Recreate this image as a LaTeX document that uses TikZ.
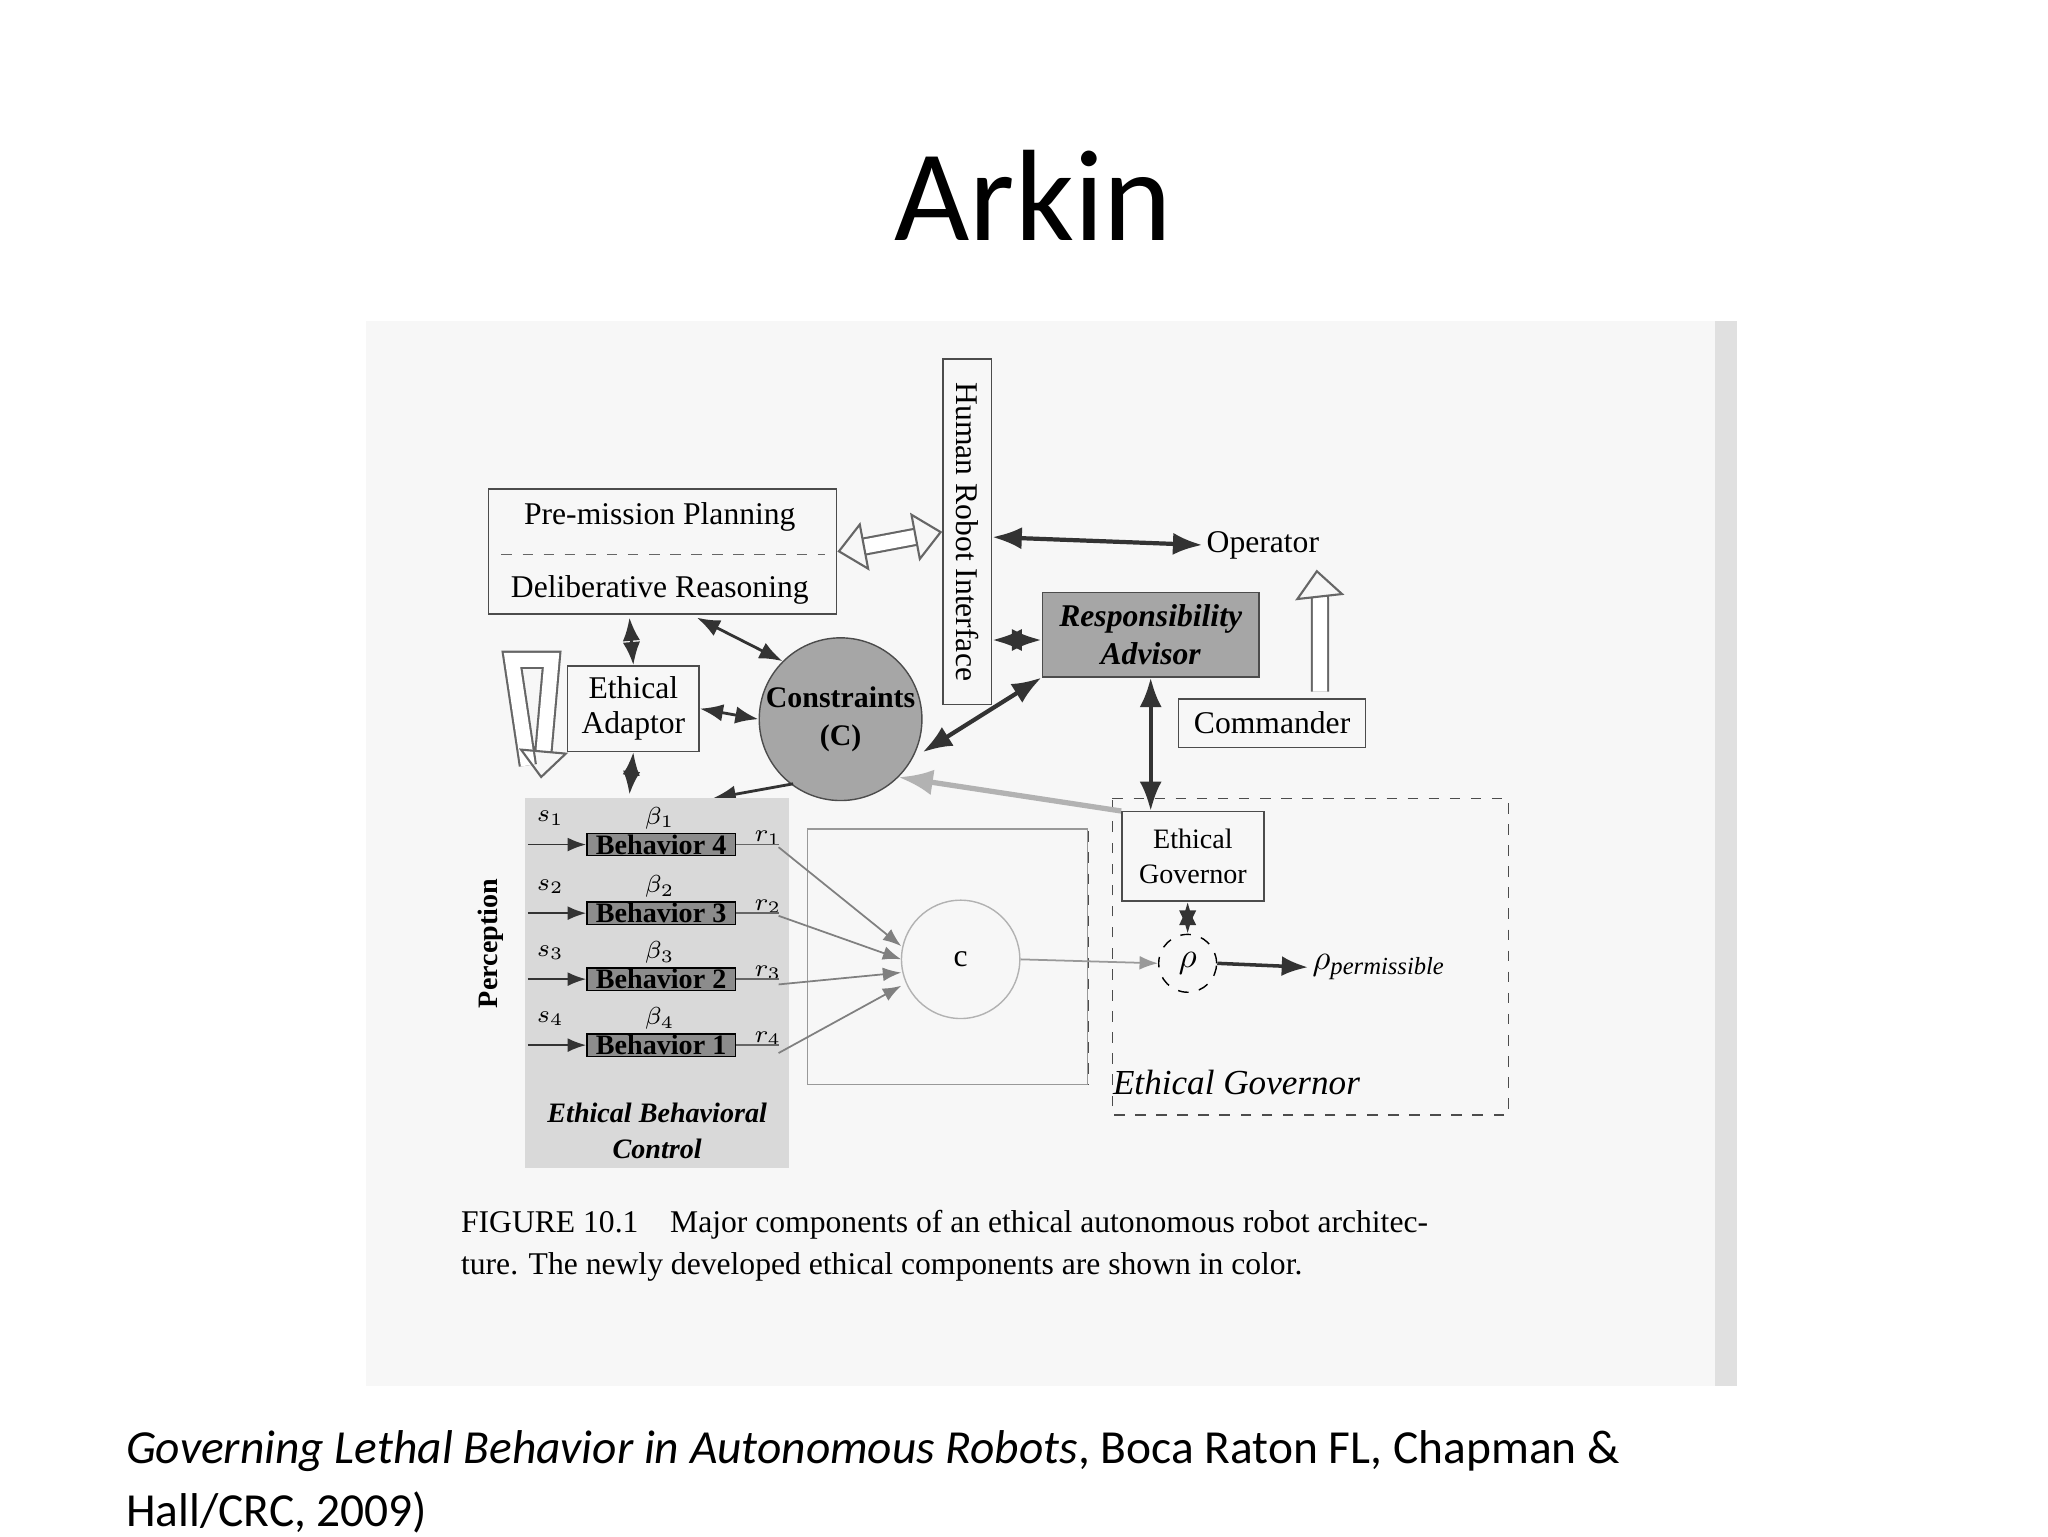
\documentclass[tikz,border=0pt]{standalone}
\usepackage{fontspec}
\setmainfont{Liberation Serif}
\newfontfamily\calib{Carlito}
\usetikzlibrary{arrows.meta,calc}
\begin{document}
\begin{tikzpicture}[x=0.013196cm,y=-0.013196cm,
  lbl/.style={font=\fontsize{9}{10}\selectfont,inner sep=1pt},
  box/.style={draw=black!70,thin},
  dbl/.style={Latex-Latex,line width=1.2pt,black!80},
  sarr/.style={-Latex,black!80,line width=0.5pt},
  hollow/.style={double=white,double distance=4pt,draw=black!60,line width=0.6pt,-{Triangle[open,length=8pt,width=14pt]}},
  hollow2/.style={double=white,double distance=4pt,draw=black!60,line width=0.6pt,{Triangle[open,length=8pt,width=14pt]}-{Triangle[open,length=8pt,width=14pt]}},
  beh/.style={draw=black,fill=black!45,minimum width=113*0.3742pt,minimum height=17*0.3742pt,inner sep=0pt,font=\bfseries\fontsize{8}{9}\selectfont}]
\useasboundingbox (0,0) rectangle (1552,1164);
\fill[white] (0,0) rectangle (1552,1164);
\node[font=\calib\fontsize{37}{40}\selectfont] (title) at (783,148) {Arkin};
\fill[black!3] (277,243) rectangle (1316,1050);
\fill[black!12] (1300,243) rectangle (1316,1050);
% premission
\node[box,minimum width=265*0.3742pt,minimum height=95*0.3742pt] (pre) at (502,418) {};
\draw[dashed,black!60] (380,420) -- (625,420);
\node[lbl] (pm) at (500,392) {Pre-mission Planning};
\node[lbl] (dr) at (500,447) {Deliberative Reasoning};
% HRI
\node[box,minimum width=37*0.3742pt,minimum height=263*0.3742pt] (hri) at (733,403) {};
\node[lbl,rotate=-90] (hrit) at (733,403) {Human Robot Interface};
\draw[hollow2] (pre.east) -- (hri.west);
\node[lbl] (op) at (957,413) {Operator};
\draw[dbl] (hri.east |- 0,407) -- (op.west);
\node[box,fill=black!35,minimum width=165*0.3742pt,minimum height=62*0.3742pt,align=center,font=\itshape\bfseries\fontsize{9}{11}\selectfont] (ra) at (872,481) {Responsibility\\Advisor};
\draw[dbl] (hri.east |- 0,485) -- (ra.west |- 0,485);
\node[box,minimum width=142*0.3742pt,minimum height=37*0.3742pt,lbl] (cmd) at (964,548) {Commander};
\draw[hollow] ($(cmd.north east)+(-35,-5)$) -- ++(0,-70) -- ($(op.south east)+(-5,5)$);
% ethical adaptor & constraints
\node[box,minimum width=100*0.3742pt,minimum height=65*0.3742pt,align=center,lbl] (ea) at (480,537) {Ethical\\Adaptor};
\node[circle,draw=black!70,fill=black!35,minimum size=116*0.3742pt,align=center,inner sep=0pt,font=\bfseries\fontsize{8.5}{11}\selectfont] (con) at (637,545) {Constraints\\(C)};
\draw[dbl,line width=0.8pt] (477,468) -- (ea.north);
\draw[dbl,line width=0.8pt] (528,468) -- (con.north west);
\draw[dbl,line width=0.8pt] (ea.east) -- (con.west);
\draw[dbl] (ra.south west) -- (con.east |- 0,570);
\draw[dbl,line width=0.8pt] (ea.south) -- (477,602);
\draw[sarr,line width=0.8pt] ($(con.south west)+(8,5)$) -- (540,605);
\draw[hollow] (400,580) -- (388,500) -- (418,500) -- (410,590);
% behavioural control
\fill[black!15] (398,605) rectangle (598,885);
\foreach \n/\y/\b in {1/640/4,2/692/3,3/742/2,4/792/1}{
  \node[beh] (b\n) at (501,\y) {Behavior \b};
  \node[lbl,font=\fontsize{7}{8}\selectfont] (s\n) at (417,\y-20) {$s_{\n}$};
  \node[lbl,font=\fontsize{7}{8}\selectfont] (be\n) at (500,\y-20) {$\beta_{\n}$};
  \node[lbl,font=\fontsize{7}{8}\selectfont] (r\n) at (582,\y-5) {$r_{\n}$};
  \coordinate (in\n) at (400,\y);
  \draw[sarr] (in\n) -- (b\n.west);
  \draw[black!60] (b\n.east) -- (590,\y);
}
\node[lbl,rotate=90,font=\bfseries\fontsize{8}{9}\selectfont] (perc) at (372,715) {Perception};
\node[lbl,align=center,font=\itshape\bfseries\fontsize{8}{10}\selectfont] (ebc) at (498,857) {Ethical Behavioral\\Control};
\node[draw=black!40,thin,minimum width=213*0.3742pt,minimum height=194*0.3742pt] (cbox) at (718,725) {};
\node[circle,draw=black!30,minimum size=90*0.3742pt,lbl] (cc) at (728,727) {c};
\foreach \n in {1,2,3,4}{ \draw[sarr,black!50] (590,{590+52*\n}) -- ($(cc.center)+(-45,{-20+10*\n})$); }
% ethical governor
\draw[dashed,black!70] (843,605) -- (1143,605) -- (1143,845) -- (843,845) -- cycle;
\draw[dashed,black!70] (825,630) -- (825,822);
\node[box,minimum width=108*0.3742pt,minimum height=68*0.3742pt,align=center,font=\fontsize{8}{10}\selectfont] (eg) at (904,649) {Ethical\\Governor};
\node[circle,draw,dashed,minimum size=44*0.3742pt,inner sep=0pt,font=\itshape\fontsize{10}{11}\selectfont] (rho) at (900,730) {$\rho$};
\node[lbl,font=\fontsize{10}{11}\selectfont] (rp) at (1045,733) {$\rho_{\mathit{permissible}}$};
\draw[sarr,line width=1pt] (rho.east) -- (rp.west);
\draw[dbl,line width=0.8pt] (eg.south -| rho) -- (rho.north);
\draw[sarr,black!40] (cc.east) -- (rho.west);
\draw[dbl] (ra.south) -- (eg.north -| ra.south);
\draw[sarr,black!30,line width=1.5pt] (eg.north west) -- (con.south east);
\node[lbl,font=\itshape\fontsize{10}{11}\selectfont] (egt) at (937,820) {Ethical Governor};
% caption
\node[anchor=west,font=\fontsize{9}{11}\selectfont] (cap1) at (340,928) {FIGURE 10.1\quad Major components of an ethical autonomous robot architec-};
\node[anchor=west,font=\fontsize{9}{11}\selectfont] (cap2) at (340,960) {ture. The newly developed ethical components are shown in color.};
% citation
\node[anchor=west,inner sep=0pt,font=\calib\fontsize{13.5}{16}\selectfont] (cit1) at (95,1100) {\textit{Governing Lethal Behavior in Autonomous Robots}, Boca Raton FL, Chapman \&};
\node[anchor=west,inner sep=0pt,font=\calib\fontsize{13.5}{16}\selectfont] (cit2) at (95,1146) {Hall/CRC, 2009)};
\end{tikzpicture}
\end{document}
